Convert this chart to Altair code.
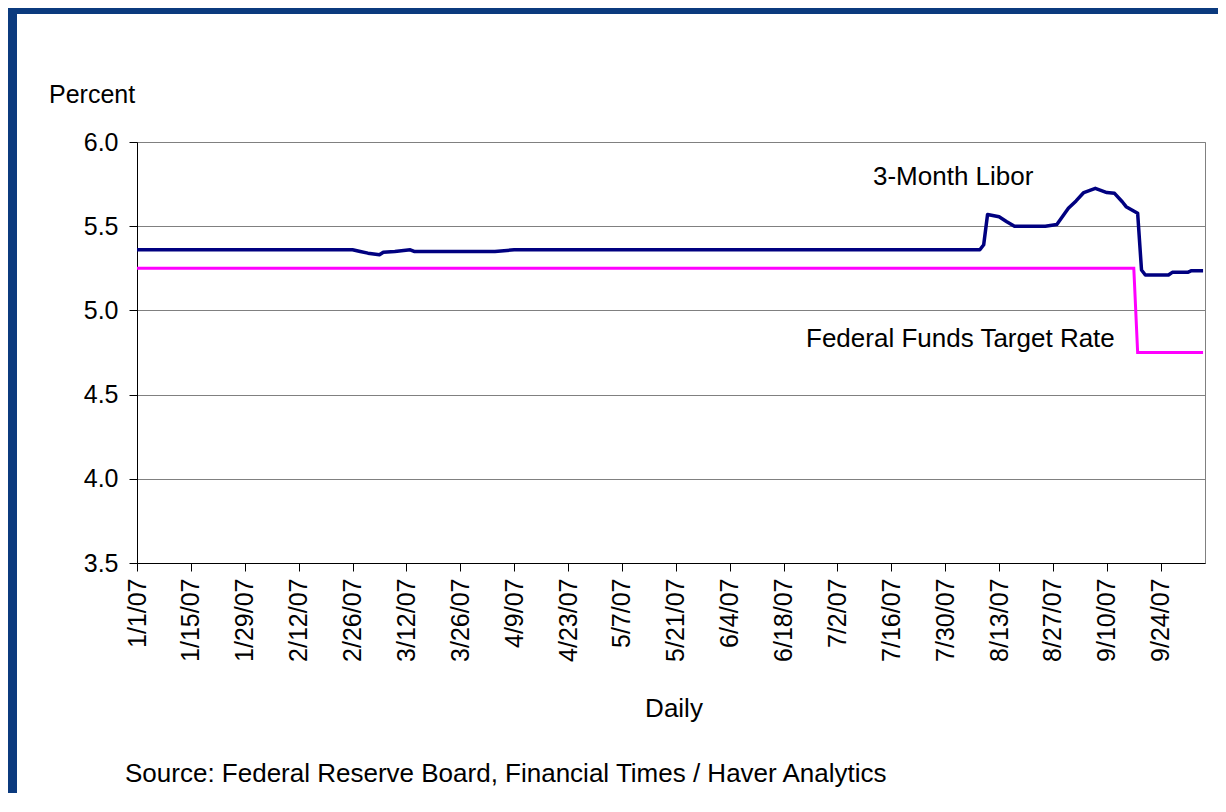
import altair as alt
import pandas as pd

# ---------------- data ----------------
libor_dates = [
    "2007-01-01", "2007-02-26", "2007-02-28", "2007-03-02", "2007-03-05",
    "2007-03-06", "2007-03-09", "2007-03-13", "2007-03-14", "2007-04-04",
    "2007-04-09", "2007-08-08", "2007-08-09", "2007-08-10", "2007-08-13",
    "2007-08-15", "2007-08-17", "2007-08-25", "2007-08-28", "2007-08-31",
    "2007-09-02", "2007-09-04", "2007-09-07", "2007-09-10", "2007-09-12",
    "2007-09-14", "2007-09-15", "2007-09-18", "2007-09-19", "2007-09-20",
    "2007-09-26", "2007-09-27", "2007-10-01", "2007-10-02", "2007-10-05",
]
libor_values = [
    5.36, 5.36, 5.35, 5.34, 5.33,
    5.345, 5.35, 5.36, 5.35, 5.35,
    5.36, 5.36, 5.39, 5.57, 5.556,
    5.527, 5.50, 5.50, 5.51, 5.606,
    5.65, 5.70, 5.725, 5.70, 5.695,
    5.645, 5.616, 5.577, 5.24, 5.21,
    5.21, 5.226, 5.226, 5.236, 5.236,
]
fed_dates = ["2007-01-01", "2007-09-17", "2007-09-18", "2007-10-05"]
fed_values = [5.25, 5.25, 4.75, 4.75]

x_tick_dates = [
    "2007-01-01", "2007-01-15", "2007-01-29", "2007-02-12", "2007-02-26",
    "2007-03-12", "2007-03-26", "2007-04-09", "2007-04-23", "2007-05-07",
    "2007-05-21", "2007-06-04", "2007-06-18", "2007-07-02", "2007-07-16",
    "2007-07-30", "2007-08-13", "2007-08-27", "2007-09-10", "2007-09-24",
]
y_ticks = [3.5, 4.0, 4.5, 5.0, 5.5, 6.0]
x_domain = ["2007-01-01", "2007-10-05T12:00"]

series_names = ["3-Month Libor", "Federal Funds Target Rate"]
y_title = "Percent"
x_title = "Daily"
source_text = "Source: Federal Reserve Board, Financial Times / Haver Analytics"

# ---------------- helpers ----------------
def to_ms(s):
    return int(pd.Timestamp(s, tz="UTC").value // 10**6)

FONT = "Liberation Sans"
FS = 25
W, H = 1068, 421

libor_df = pd.DataFrame({"date": libor_dates, "value": libor_values})
fed_df = pd.DataFrame({"date": fed_dates, "value": fed_values})

x_enc = alt.X(
    "date:T",
    scale=alt.Scale(type="utc", domain=[to_ms(d) for d in x_domain]),
    axis=alt.Axis(
        values=[to_ms(d) for d in x_tick_dates],
        format="%-m/%-d/%y",
        labelAngle=270,
        labelPadding=7,
        tickSize=8,
        tickColor="black",
        domainColor="black",
        grid=False,
        title=None,
        labelOverlap=False,
        labelFlush=False,
    ),
)
y_enc = alt.Y(
    "value:Q",
    scale=alt.Scale(domain=[3.5, 6.0], nice=False, zero=False),
    axis=alt.Axis(
        values=y_ticks,
        format=".1f",
        grid=True,
        gridColor="#808080",
        gridWidth=1,
        tickSize=8,
        tickColor="black",
        domainColor="black",
        labelPadding=11,
        title=None,
    ),
)

fed_line = alt.Chart(fed_df).mark_line(
    color="#FF00FF", strokeWidth=3, strokeJoin="miter"
).encode(x=x_enc, y=y_enc)

libor_line = alt.Chart(libor_df).mark_line(
    color="#000080", strokeWidth=3.5, strokeJoin="round"
).encode(x=x_enc, y=y_enc)


def label(txt, x, y, align="left", size=FS):
    return alt.Chart(pd.DataFrame({"t": [txt]})).mark_text(
        align=align, baseline="alphabetic", font=FONT, fontSize=size, color="black"
    ).encode(x=alt.value(x), y=alt.value(y), text="t:N")


one = pd.DataFrame({"a": [0]})
frame_left = alt.Chart(one).mark_rect(color="#0b3a7e").encode(
    x=alt.value(-129), x2=alt.value(-120), y=alt.value(-134), y2=alt.value(H + 240)
)
frame_top = alt.Chart(one).mark_rect(color="#0b3a7e").encode(
    x=alt.value(-129), x2=alt.value(W + 20), y=alt.value(-134), y2=alt.value(-128)
)

chart = alt.layer(
    frame_left,
    frame_top,
    fed_line,
    libor_line,
    label(y_title, -88, -39),
    label(series_names[0], 736, 43, size=26),
    label(series_names[1], 669, 205, size=26),
    label(x_title, 537, 575, align="center", size=26),
    label(source_text, -12, 640, size=26),
).properties(
    width=W,
    height=H,
    autosize=alt.AutoSizeParams(type="none"),
    padding={"left": 129, "top": 134, "right": 13, "bottom": 230},
    background="white",
).configure_view(
    stroke="#808080", strokeWidth=1
).configure_axis(
    labelFont=FONT, labelFontSize=FS, labelColor="black"
)

chart.save("out.html", embed_options={"renderer": "svg", "actions": False})
